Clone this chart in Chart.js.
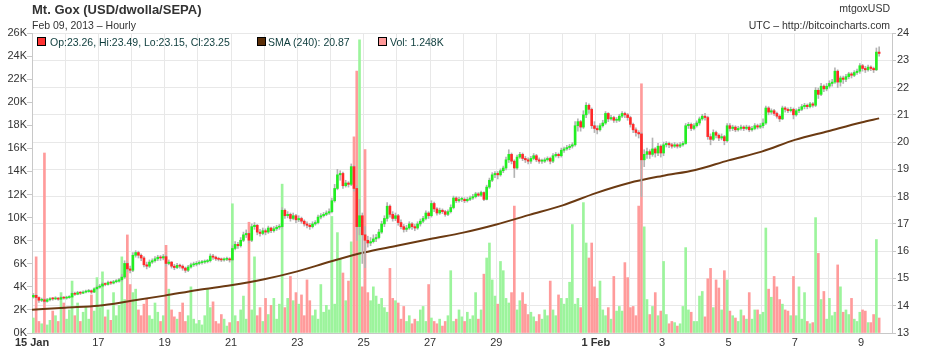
<!DOCTYPE html>
<html>
<head>
<meta charset="utf-8">
<title>Mt. Gox (USD/dwolla/SEPA)</title>
<script src="https://cdn.jsdelivr.net/npm/chart.js@4.4.1/dist/chart.umd.min.js"></script>
<style>
  html, body { margin: 0; padding: 0; background: #fff; }
  #wrap { position: relative; width: 934px; height: 361px; font-family: "Liberation Sans", Arial, sans-serif; }
  #chart { position: absolute; left: 0; top: 0; }
  .txt { position: absolute; white-space: nowrap; color: #333; }
  .title { left: 32px; top: 2px; font-size: 13px; font-weight: bold; line-height: 15px; }
  .sub { left: 32px; top: 19px; font-size: 10.5px; line-height: 12px; }
  .rt { right: 44px; font-size: 10.5px; line-height: 12px; text-align: right; }
  .leg { position: absolute; top: 36px; font-size: 10.5px; line-height: 12px; color: #0d3c3c; white-space: nowrap; }
  .box { position: absolute; top: 37px; width: 7px; height: 7px; border: 1px solid #000; }
</style>
</head>
<body>
<div id="wrap">
  <canvas id="chart" width="934" height="361"></canvas>
  <div class="txt title">Mt. Gox (USD/dwolla/SEPA)</div>
  <div class="txt sub">Feb 09, 2013 – Hourly</div>
  <div class="txt rt" style="top:2px">mtgoxUSD</div>
  <div class="txt rt" style="top:19px">UTC – http://bitcoincharts.com</div>
  <div class="box" style="left:37px;background:#ff3333"></div>
  <div class="leg" style="left:50px">Op:23.26, Hi:23.49, Lo:23.15, Cl:23.25</div>
  <div class="box" style="left:257px;background:#5a2e08"></div>
  <div class="leg" style="left:268px">SMA (240): 20.87</div>
  <div class="box" style="left:378px;background:#ff9999"></div>
  <div class="leg" style="left:390px">Vol: 1.248K</div>
</div>
<script>
// 2-hour bars from 15 Jan 00:00 (bar i covers hours 2i..2i+2)
const firstOpen = 14.32;

const close = [
  14.38, 14.3, 14.2, 14.22, 14.16, 14.22, 14.26, 14.25, 14.28, 14.24, 14.3, 14.28,       // 15 Jan
  14.3, 14.32, 14.45, 14.42, 14.48, 14.46, 14.5, 14.52, 14.55, 14.5, 14.62, 14.68,       // 16
  14.72, 14.8, 14.78, 14.85, 14.83, 14.88, 14.9, 14.95, 15.05, 15.55, 15.35, 15.3,       // 17
  15.85, 15.95, 15.85, 15.75, 15.5, 15.45, 15.6, 15.65, 15.72, 15.78, 15.75, 15.8,       // 18
  15.55, 15.6, 15.45, 15.4, 15.48, 15.45, 15.38, 15.3, 15.42, 15.5, 15.52, 15.55,        // 19
  15.58, 15.6, 15.62, 15.65, 15.82, 15.78, 15.72, 15.7, 15.68, 15.7, 15.72, 15.68,       // 20
  16.1, 16.25, 16.2, 16.4, 16.6, 16.65, 16.4, 16.9, 16.95, 16.7, 16.65, 16.75,           // 21
  16.7, 16.85, 16.75, 16.82, 16.88, 16.9, 17.5, 17.3, 17.35, 17.2, 17.3, 17.15,          // 22
  17.2, 17.1, 17.0, 16.95, 16.9, 17.0, 17.05, 17.25, 17.3, 17.35, 17.4, 17.45,           // 23
  17.85, 18.3, 18.8, 18.85, 18.4, 18.5, 18.45, 19.1, 18.3, 16.9, 17.3, 16.6,             // 24
  16.4, 16.3, 16.35, 16.45, 16.5, 16.7, 17.0, 17.2, 17.65, 17.35, 17.2, 17.3,            // 25
  17.05, 16.9, 16.8, 16.85, 17.0, 16.9, 16.85, 17.0, 17.1, 17.2, 17.4, 17.3,             // 26
  17.75, 17.55, 17.4, 17.5, 17.45, 17.35, 17.45, 17.6, 17.95, 17.85, 17.9, 17.9,         // 27
  17.85, 17.9, 17.95, 18.0, 18.1, 18.05, 18.15, 17.9, 18.35, 18.6, 18.8, 18.85,          // 28
  18.8, 18.95, 19.05, 19.35, 19.55, 19.3, 19.05, 19.45, 19.55, 19.4, 19.35, 19.3,        // 29
  19.4, 19.5, 19.35, 19.3, 19.3, 19.35, 19.4, 19.3, 19.5, 19.55, 19.5, 19.7,             // 30
  19.75, 19.8, 19.85, 19.9, 20.6, 20.75, 20.55, 21.0, 21.35, 21.2, 20.6, 20.5,           // 31
  20.45, 20.6, 20.7, 21.05, 20.85, 20.9, 20.8, 20.8, 20.95, 21.05, 21.0, 20.9,           // 1 Feb
  20.65, 20.45, 20.35, 20.3, 19.35, 19.55, 19.65, 19.55, 19.75, 19.6, 19.85, 19.6,       // 2
  19.9, 19.95, 19.9, 19.85, 19.9, 19.85, 19.9, 19.95, 20.6, 20.65, 20.5, 20.6,           // 3
  20.7, 20.85, 20.95, 20.9, 20.2, 20.1, 20.35, 20.25, 20.15, 20.2, 20.05, 20.6,          // 4
  20.5, 20.55, 20.45, 20.5, 20.55, 20.5, 20.55, 20.45, 20.5, 20.6, 20.55, 20.6,          // 5
  20.7, 21.25, 21.1, 21.15, 21.05, 20.95, 20.85, 21.25, 21.2, 21.15, 21.2, 21.0,         // 6
  21.15, 21.2, 21.3, 21.35, 21.3, 21.4, 21.35, 21.9, 21.75, 22.05, 21.95, 22.05,         // 7
  22.15, 22.2, 22.6, 22.2, 22.35, 22.3, 22.4, 22.5, 22.45, 22.55, 22.6, 22.8,            // 8
  22.7, 22.65, 22.75, 22.7, 22.65, 23.3, 23.25                                           // 9
];

const high = [
  14.45, 14.42, 14.33, 14.28, 14.26, 14.27, 14.3, 14.3, 14.33, 14.3, 14.34, 14.33,
  14.35, 14.37, 14.5, 14.5, 14.53, 14.52, 14.55, 14.57, 14.6, 14.58, 14.66, 14.73,
  14.78, 14.86, 14.84, 14.9, 14.9, 14.93, 14.96, 15.0, 15.15, 15.65, 15.6, 15.45,
  15.95, 16.02, 16.0, 15.9, 15.8, 15.6, 15.68, 15.72, 15.8, 15.85, 15.84, 15.88,
  15.85, 15.68, 15.62, 15.52, 15.55, 15.53, 15.5, 15.42, 15.48, 15.56, 15.6, 15.62,
  15.65, 15.66, 15.68, 15.7, 15.9, 15.88, 15.82, 15.78, 15.75, 15.76, 15.78, 15.76,
  16.2, 16.35, 16.32, 16.5, 16.7, 16.78, 16.7, 17.0, 17.05, 16.98, 16.8, 16.85,
  16.82, 16.92, 16.88, 16.9, 16.95, 16.98, 17.6, 17.55, 17.45, 17.4, 17.4, 17.35,
  17.3, 17.25, 17.15, 17.08, 17.02, 17.08, 17.12, 17.32, 17.38, 17.42, 17.48, 17.55,
  17.95, 18.45, 19.0, 18.95, 18.9, 18.6, 18.55, 19.2, 19.15, 18.4, 17.9, 17.4,
  16.9, 16.55, 16.5, 16.6, 16.62, 16.8, 17.1, 17.3, 17.78, 17.7, 17.45, 17.4,
  17.35, 17.15, 16.98, 16.95, 17.08, 17.05, 16.98, 17.08, 17.18, 17.28, 17.48, 17.45,
  17.85, 17.8, 17.6, 17.58, 17.55, 17.5, 17.52, 17.7, 18.02, 18.0, 17.98, 17.98,
  17.96, 17.97, 18.02, 18.08, 18.16, 18.15, 18.2, 18.18, 18.42, 18.68, 18.88, 18.92,
  18.92, 19.02, 19.12, 19.45, 19.72, 19.6, 19.35, 19.52, 19.62, 19.6, 19.48, 19.42,
  19.48, 19.58, 19.55, 19.42, 19.38, 19.42, 19.46, 19.45, 19.58, 19.62, 19.6, 19.78,
  19.82, 19.88, 19.92, 19.98, 20.75, 20.85, 20.8, 21.15, 21.45, 21.4, 21.25, 20.75,
  20.6, 20.68, 20.8, 21.12, 21.08, 20.98, 20.95, 20.9, 21.02, 21.12, 21.1, 21.05,
  20.95, 20.7, 20.52, 20.42, 20.35, 19.72, 19.78, 19.72, 20.15, 19.8, 19.95, 19.9,
  20.0, 20.02, 20.0, 19.95, 19.98, 19.95, 19.98, 20.02, 20.68, 20.72, 20.7, 20.68,
  20.78, 20.92, 21.02, 21.05, 20.95, 20.3, 20.45, 20.4, 20.3, 20.3, 20.25, 20.68,
  20.68, 20.62, 20.6, 20.58, 20.62, 20.6, 20.62, 20.6, 20.58, 20.68, 20.66, 20.68,
  20.85, 21.32, 21.3, 21.22, 21.2, 21.1, 21.0, 21.32, 21.3, 21.26, 21.28, 21.25,
  21.22, 21.28, 21.38, 21.42, 21.4, 21.46, 21.45, 22.0, 21.98, 22.15, 22.1, 22.15,
  22.25, 22.3, 22.72, 22.65, 22.42, 22.42, 22.48, 22.56, 22.55, 22.62, 22.68, 22.88,
  22.85, 22.78, 22.82, 22.8, 22.75, 23.45, 23.49
];

const low = [
  14.28, 14.25, 14.12, 14.15, 14.1, 14.13, 14.18, 14.2, 14.22, 14.2, 14.22, 14.24,
  14.24, 14.27, 14.3, 14.38, 14.4, 14.41, 14.44, 14.47, 14.49, 14.45, 14.48, 14.58,
  14.64, 14.68, 14.73, 14.75, 14.78, 14.8, 14.84, 14.86, 14.9, 15.0, 15.25, 15.2,
  15.25, 15.78, 15.75, 15.65, 15.42, 15.35, 15.4, 15.55, 15.6, 15.65, 15.66, 15.68,
  15.45, 15.5, 15.38, 15.32, 15.36, 15.38, 15.3, 15.22, 15.25, 15.38, 15.44, 15.46,
  15.5, 15.52, 15.55, 15.57, 15.6, 15.7, 15.66, 15.64, 15.62, 15.63, 15.65, 15.6,
  15.65, 16.05, 16.1, 16.15, 16.35, 16.5, 16.3, 16.35, 16.8, 16.6, 16.55, 16.6,
  16.6, 16.65, 16.68, 16.7, 16.76, 16.8, 16.85, 17.2, 17.22, 17.1, 17.15, 17.05,
  17.08, 17.02, 16.92, 16.85, 16.8, 16.85, 16.95, 17.0, 17.18, 17.25, 17.3, 17.35,
  17.4, 17.8, 18.25, 18.6, 18.3, 18.35, 18.35, 18.4, 18.2, 16.4, 16.6, 15.55,
  15.4, 16.15, 16.2, 16.3, 16.35, 16.45, 16.65, 16.9, 17.1, 17.25, 17.1, 17.12,
  16.95, 16.82, 16.7, 16.72, 16.8, 16.8, 16.75, 16.8, 16.92, 17.05, 17.15, 17.2,
  17.25, 17.45, 17.32, 17.35, 17.38, 17.28, 17.3, 17.4, 17.55, 17.78, 17.8, 17.82,
  17.78, 17.8, 17.85, 17.9, 17.95, 18.0, 18.0, 17.85, 17.88, 18.3, 18.55, 18.7,
  18.65, 18.75, 18.88, 18.98, 19.25, 19.2, 18.7, 19.0, 19.4, 19.32, 19.25, 19.2,
  19.22, 19.35, 19.28, 19.22, 19.22, 19.25, 19.3, 19.2, 19.25, 19.45, 19.42, 19.45,
  19.62, 19.7, 19.72, 19.78, 19.85, 20.4, 20.4, 20.5, 20.9, 21.05, 20.5, 20.35,
  20.3, 20.4, 20.55, 20.65, 20.75, 20.8, 20.72, 20.72, 20.75, 20.9, 20.9, 20.8,
  20.55, 20.35, 20.22, 20.15, 18.0, 19.1, 19.4, 19.4, 19.48, 19.45, 19.5, 19.45,
  19.5, 19.82, 19.8, 19.78, 19.8, 19.78, 19.8, 19.85, 19.92, 20.5, 20.42, 20.45,
  20.55, 20.62, 20.8, 20.8, 20.1, 19.9, 20.05, 20.15, 20.05, 20.08, 19.9, 20.0,
  20.4, 20.42, 20.38, 20.4, 20.44, 20.42, 20.45, 20.38, 20.4, 20.45, 20.48, 20.5,
  20.52, 20.65, 21.0, 21.02, 20.98, 20.88, 20.75, 20.82, 21.1, 21.08, 21.1, 20.85,
  20.95, 21.08, 21.15, 21.22, 21.22, 21.25, 21.28, 21.3, 21.6, 21.7, 21.85, 21.88,
  21.98, 22.05, 22.15, 22.0, 22.05, 22.15, 22.22, 22.32, 22.35, 22.4, 22.48, 22.52,
  22.6, 22.55, 22.6, 22.62, 22.55, 22.62, 23.15
];

// volume in thousands (BTC)
const volume = [
  1.3, 6.6, 1.0, 0.8, 15.6, 0.7, 1.1, 1.9, 1.5, 1.0, 3.5, 2.6,
  1.2, 2.0, 4.5, 1.5, 2.6, 1.0, 1.8, 2.3, 1.2, 3.3, 1.9, 4.8,
  2.2, 5.3, 1.4, 2.0, 1.1, 3.5, 1.5, 2.4, 6.6, 2.9, 8.5, 4.2,
  3.5, 3.8, 2.0, 1.5, 2.5, 3.0, 1.5, 1.2, 2.6, 1.8, 1.0, 1.5,
  7.6, 3.8, 2.0, 1.4, 1.2, 1.8, 2.6, 1.0, 1.5, 4.0, 1.2, 0.8,
  1.1, 0.7, 1.5, 3.8, 2.2, 2.7, 1.0, 0.8, 1.6, 1.2, 0.6, 0.9,
  11.2, 1.5, 1.0, 2.0, 3.2, 1.2, 9.6, 2.0, 6.6, 1.5, 2.2, 1.0,
  3.0, 1.6, 2.4, 3.0, 1.2, 2.5, 12.9, 2.2, 3.0, 4.9, 2.8, 3.5,
  2.5, 3.3, 1.5, 4.6, 2.8, 1.5, 2.0, 1.2, 4.2, 1.8, 2.4, 2.0,
  10.1, 2.5, 8.7, 6.4, 5.2, 2.8, 4.5, 7.9, 17.0, 22.7, 25.4, 4.0,
  15.9, 3.5, 2.8, 4.0, 3.2, 2.5, 3.0, 2.2, 1.8, 5.6, 3.0, 2.8,
  2.6, 1.2, 2.3, 1.0, 1.5, 0.8, 1.2, 1.0, 2.0, 2.3, 1.0, 4.2,
  1.3, 1.0, 0.8, 1.2, 0.6, 1.0, 1.5, 5.4, 1.0, 1.2, 2.0, 1.4,
  1.0, 1.8, 1.2, 1.5, 3.5, 1.2, 2.0, 5.1, 6.5, 7.8, 4.6, 3.2,
  2.5, 6.2, 5.4, 3.0, 2.6, 3.5, 11.0, 2.0, 2.8, 3.5, 2.5, 1.6,
  1.8, 1.4, 1.0, 1.6, 1.2, 2.0, 1.5, 4.5, 2.0, 1.5, 3.3, 3.0,
  2.5, 3.0, 4.4, 9.4, 2.5, 3.0, 2.2, 11.3, 7.8, 6.5, 7.8, 4.0,
  3.0, 4.5, 2.0, 1.5, 2.2, 1.2, 4.9, 1.9, 2.3, 1.9, 6.1, 4.8,
  2.2, 2.3, 1.5, 11.0, 21.6, 9.2, 2.9, 1.6, 2.3, 3.5, 1.5, 1.9,
  6.2, 1.6, 0.8, 1.0, 0.9, 0.6, 0.8, 2.3, 7.4, 2.0, 1.8, 1.0,
  1.0, 3.2, 3.6, 1.4, 4.7, 5.6, 2.2, 4.6, 3.9, 2.0, 5.4, 4.6,
  1.9, 1.5, 1.3, 1.0, 2.0, 1.5, 1.2, 3.5, 1.2, 2.0, 2.0, 1.6,
  1.8, 9.1, 3.8, 3.1, 4.9, 4.0, 2.9, 2.5, 2.0, 1.9, 1.5, 4.9,
  1.5, 4.0, 1.2, 3.5, 1.0, 0.8, 0.9, 10.0, 6.9, 2.9, 3.6, 1.2,
  3.0, 1.5, 1.8, 5.9, 4.0, 1.8, 2.0, 1.6, 3.0, 1.2, 1.0, 1.8,
  2.0, 1.9, 0.9, 0.9, 1.6, 8.1, 1.3
];

// SMA(240) read once a day at 00:00, plus the last bar
const smaHours = [0, 24, 48, 72, 96, 120, 144, 168, 192, 216, 240, 264, 288, 312, 336, 360, 384, 408, 432, 456, 480, 504, 528, 552, 576, 600, 613];
const smaValues = [13.85, 13.93, 14.0, 14.18, 14.37, 14.58, 14.75, 14.97, 15.26, 15.62, 15.95, 16.2, 16.45, 16.68, 16.98, 17.33, 17.68, 18.13, 18.5, 18.76, 18.98, 19.33, 19.65, 20.08, 20.4, 20.72, 20.87];

const dayNames = ['15 Jan', '', '17', '', '19', '', '21', '', '23', '', '25', '', '27', '', '29', '', '', '1 Feb', '', '3', '', '5', '', '7', '', '9'];

const fontFamily = '"Liberation Sans", Arial, sans-serif';
const axisFont = { family: fontFamily, size: 11 };

const xs = close.map((c, i) => i * 2 + 1);
const open = close.map((c, i) => i === 0 ? firstOpen : close[i - 1]);
const up = close.map((c, i) => c >= open[i]);

new Chart(document.getElementById('chart'), {
    type: 'bar',
    data: {
        datasets: [
            {
                label: 'body',
                data: close.map((c, i) => ({ x: xs[i], y: [open[i], c] })),
                backgroundColor: up.map(u => u ? '#22ee22' : '#ff2a2a'),
                barThickness: 2,
                minBarLength: 1,
                grouped: false,
                yAxisID: 'price',
                order: 0
            },
            {
                label: 'wick',
                data: close.map((c, i) => ({ x: xs[i], y: [low[i], high[i]] })),
                backgroundColor: '#b4b4b4',
                barThickness: 1,
                grouped: false,
                yAxisID: 'price',
                order: 1
            },
            {
                type: 'line',
                label: 'SMA (240)',
                data: smaHours.map((h, k) => ({ x: h, y: smaValues[k] })),
                borderColor: '#6b3a12',
                borderWidth: 2,
                pointRadius: 0,
                cubicInterpolationMode: 'monotone',
                yAxisID: 'price',
                order: 2
            },
            {
                label: 'Vol',
                data: volume.map((v, i) => ({ x: xs[i], y: v })),
                backgroundColor: up.map(u => u ? '#9cf49c' : '#ff9b9b'),
                barThickness: 2,
                grouped: false,
                yAxisID: 'vol',
                order: 3
            }
        ]
    },
    options: {
        responsive: false,
        animation: false,
        events: [],
        layout: { padding: { top: 33, left: 0, right: 0, bottom: 0 } },
        plugins: {
            legend: { display: false },
            tooltip: { enabled: false }
        },
        scales: {
            x: {
                type: 'linear',
                min: 0,
                max: 622.3,
                offset: false,
                grid: { color: '#e8e8e8', drawTicks: false, offset: false },
                border: { color: '#c8c8c8' },
                ticks: {
                    stepSize: 24,
                    autoSkip: false,
                    maxRotation: 0,
                    includeBounds: false,
                    padding: 3,
                    color: '#333',
                    font: ctx => {
                        const d = ctx.tick ? ctx.tick.value / 24 : -1;
                        const name = dayNames[d] || '';
                        return { family: fontFamily, size: 11, weight: name.includes(' ') ? 'bold' : 'normal' };
                    },
                    callback: value => {
                        const d = value / 24;
                        return Number.isInteger(d) ? (dayNames[d] || '') : '';
                    }
                },
                afterFit: scale => { scale.height = 28; }
            },
            price: {
                position: 'right',
                min: 13,
                max: 24,
                grid: { color: '#e8e8e8', tickLength: 4, tickColor: '#c8c8c8' },
                border: { color: '#c8c8c8' },
                ticks: { stepSize: 1, padding: 1, color: '#333', font: axisFont },
                afterFit: scale => { scale.width = 42; }
            },
            vol: {
                position: 'left',
                min: 0,
                max: 26,
                grid: { drawOnChartArea: false, tickLength: 5, color: '#c8c8c8' },
                border: { color: '#c8c8c8' },
                ticks: { stepSize: 2, padding: 0, color: '#333', font: axisFont, callback: v => v + 'K' },
                afterFit: scale => { scale.width = 32; }
            }
        }
    }
});
</script>
</body>
</html>
